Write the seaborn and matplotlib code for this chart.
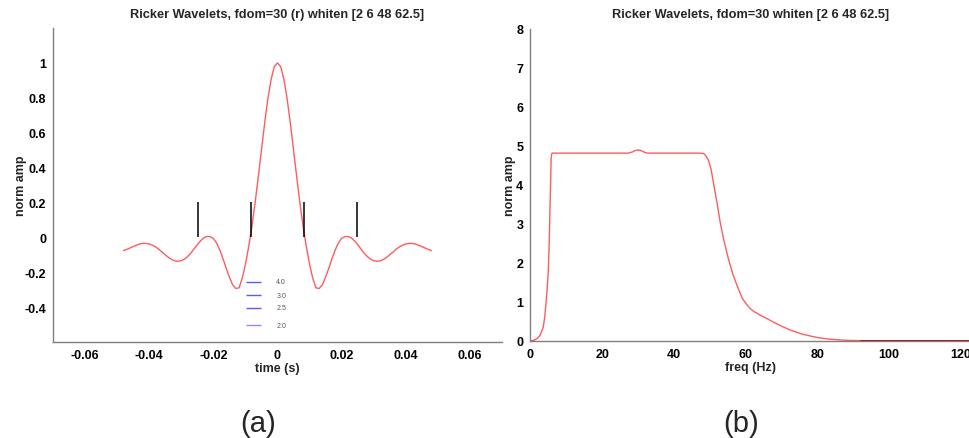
import numpy as np
import matplotlib
matplotlib.use("Agg")
import matplotlib.pyplot as plt
import seaborn as sns

# ---------------- data ----------------
# (a) whitened Ricker wavelet, time axis 1 ms sampling
time_s = [round(-0.048 + 0.001 * i, 3) for i in range(97)]
wavelet_amp = [
    -0.076, -0.069, -0.061, -0.053, -0.045, -0.038, -0.035, -0.035, -0.038, -0.045,
    -0.055, -0.068, -0.085, -0.100, -0.115, -0.127, -0.135, -0.137, -0.134, -0.125,
    -0.110, -0.090, -0.066, -0.042, -0.020, -0.003, 0.005, 0.004, -0.006, -0.032,
    -0.072, -0.122, -0.177, -0.228, -0.272, -0.293, -0.290, -0.235, -0.155, -0.055,
    0.060, 0.195, 0.345, 0.500, 0.655, 0.795, 0.905, 0.978,
    1.000,
    0.978, 0.905, 0.795, 0.655, 0.500, 0.345, 0.195, 0.060, -0.055, -0.155,
    -0.235, -0.290, -0.293, -0.272, -0.228, -0.177, -0.122, -0.072, -0.032, -0.006,
    0.004, 0.005, -0.003, -0.020, -0.042, -0.066, -0.090, -0.110, -0.125, -0.134,
    -0.137, -0.135, -0.127, -0.115, -0.100, -0.085, -0.068, -0.055, -0.045, -0.038,
    -0.035, -0.035, -0.038, -0.045, -0.053, -0.061, -0.069, -0.076,
]
marker_times = [-0.0247, -0.0083, 0.0083, 0.0247]
marker_bottom = 0.0
marker_top = 0.2

legend_labels = ["4.0", "3.0", "2.5", "2.0"]
legend_y = [-0.255, -0.333, -0.404, -0.504]
legend_colors = ["#5a5aff", "#5a5aff", "#5a5aff", "#8c8cff"]

# (b) whitened amplitude spectrum
freq_hz = [0, 1, 2, 2.7, 3.6, 4.0, 4.4, 4.7, 5.0, 5.3, 5.5, 5.7, 5.8, 5.95, 6.1,
           10, 20, 27.3, 28.5, 29.3, 30.2, 31.0, 31.8, 32.6, 40, 47, 48.3, 49.0,
           49.7, 50.4, 51.0, 52.0, 52.9, 54.0, 55.2, 56.4, 57.6, 59.0, 60.4, 61.3,
           62.2, 64.1, 66.0, 67.8, 70.0, 72.4, 76.0, 79.9, 83.0, 86.4, 89.0, 92.0]
spec_amp = [0, 0.02, 0.07, 0.14, 0.35, 0.60, 0.99, 1.35, 1.76, 2.60, 3.46, 4.20,
            4.66, 4.78, 4.81, 4.81, 4.81, 4.81, 4.84, 4.88, 4.89, 4.87, 4.83, 4.81,
            4.81, 4.81, 4.80, 4.73, 4.61, 4.38, 4.06, 3.55, 3.04, 2.55, 2.10, 1.72,
            1.42, 1.10, 0.92, 0.83, 0.76, 0.66, 0.57, 0.48, 0.38, 0.28, 0.17, 0.09,
            0.05, 0.026, 0.015, 0.01]
tail_freq = [92, 122.5]
tail_amp = [0, 0]
head_freq = [0, 1.0]
head_amp = [0, 0]

# ---------------- style ----------------
sns.set_theme(style="white")
plt.rcParams["font.family"] = ["Liberation Sans", "DejaVu Sans"]

W, H = 970, 439
fig = plt.figure(figsize=(W / 100, H / 100), dpi=100)
fig.patch.set_facecolor("white")

spine_c = "#808080"
curve_c = "#ff5c5c"


def style_axes(ax):
    for s in ["top", "right"]:
        ax.spines[s].set_visible(False)
    for s in ["left", "bottom"]:
        ax.spines[s].set_color(spine_c)
        ax.spines[s].set_linewidth(1.0)
    ax.tick_params(axis="both", direction="out", length=3, width=0.8,
                   color=spine_c, labelsize=9, pad=2, labelcolor="black")
    for lab in ax.get_xticklabels() + ax.get_yticklabels():
        lab.set_fontweight("bold")
    ax.set_facecolor("white")


# ---------- (a) ----------
ax1 = fig.add_axes([53 / W, 1 - 343 / H, (502 - 53) / W, (343 - 29) / H])
sns.lineplot(x=time_s, y=wavelet_amp, ax=ax1, color=curve_c, linewidth=1.0,
             sort=False, estimator=None)
ax1.vlines(marker_times, marker_bottom, marker_top, color="black", linewidth=1.1)
for lab, yv, c in zip(legend_labels, legend_y, legend_colors):
    ax1.hlines(yv, -0.0099, -0.0050, color=c, linewidth=1.0)
    ax1.text(-0.0004, yv, lab, fontsize=5, color="#555555", va="center", ha="left")
ax1.set_xlim(-0.07, 0.07)
ax1.set_ylim(-0.6, 1.2)
ax1.set_xticks([-0.06, -0.04, -0.02, 0, 0.02, 0.04, 0.06])
ax1.set_xticklabels(["-0.06", "-0.04", "-0.02", "0", "0.02", "0.04", "0.06"])
ax1.set_yticks([-0.4, -0.2, 0, 0.2, 0.4, 0.6, 0.8, 1])
ax1.set_yticklabels(["-0.4", "-0.2", "0", "0.2", "0.4", "0.6", "0.8", "1"])
style_axes(ax1)
ax1.set_xlabel("time (s)", fontsize=9, fontweight="bold", labelpad=1)
ax1.set_ylabel("norm amp", fontsize=9, fontweight="bold")
ax1.yaxis.set_label_coords((27 - 53) / 449, 0.5)
ax1.set_title("Ricker Wavelets, fdom=30 (r) whiten [2 6 48 62.5]", fontsize=9.2,
              fontweight="bold", pad=8)

# ---------- (b) ----------
ax2 = fig.add_axes([530.3 / W, 1 - 342 / H, (970 - 530.3) / W, (342 - 29.5) / H])
sns.lineplot(x=head_freq, y=head_amp, ax=ax2, color="#b00000", linewidth=1.4,
             sort=False, estimator=None)
sns.lineplot(x=freq_hz, y=spec_amp, ax=ax2, color=curve_c, linewidth=1.0,
             sort=False, estimator=None)
sns.lineplot(x=tail_freq, y=tail_amp, ax=ax2, color="#b00000", linewidth=1.4,
             sort=False, estimator=None)
ax2.set_xlim(0, 122.5)
ax2.set_ylim(0, 8)
ax2.set_xticks([0, 20, 40, 60, 80, 100, 120])
ax2.set_yticks(range(0, 9))
style_axes(ax2)
ax2.set_xlabel("freq (Hz)", fontsize=9, fontweight="bold", labelpad=1)
ax2.set_ylabel("norm amp", fontsize=9, fontweight="bold")
ax2.yaxis.set_label_coords((516 - 530.3) / 439.7, 0.5)
ax2.set_title("Ricker Wavelets, fdom=30 whiten [2 6 48 62.5]", fontsize=9.2,
              fontweight="bold", pad=8)

# subplot letters
fig.text(258 / W, 1 - 424 / H, "(a)", fontsize=21, ha="center", va="center")
fig.text(741 / W, 1 - 424 / H, "(b)", fontsize=21, ha="center", va="center")

fig.savefig("out.png", dpi=100, facecolor="white")
